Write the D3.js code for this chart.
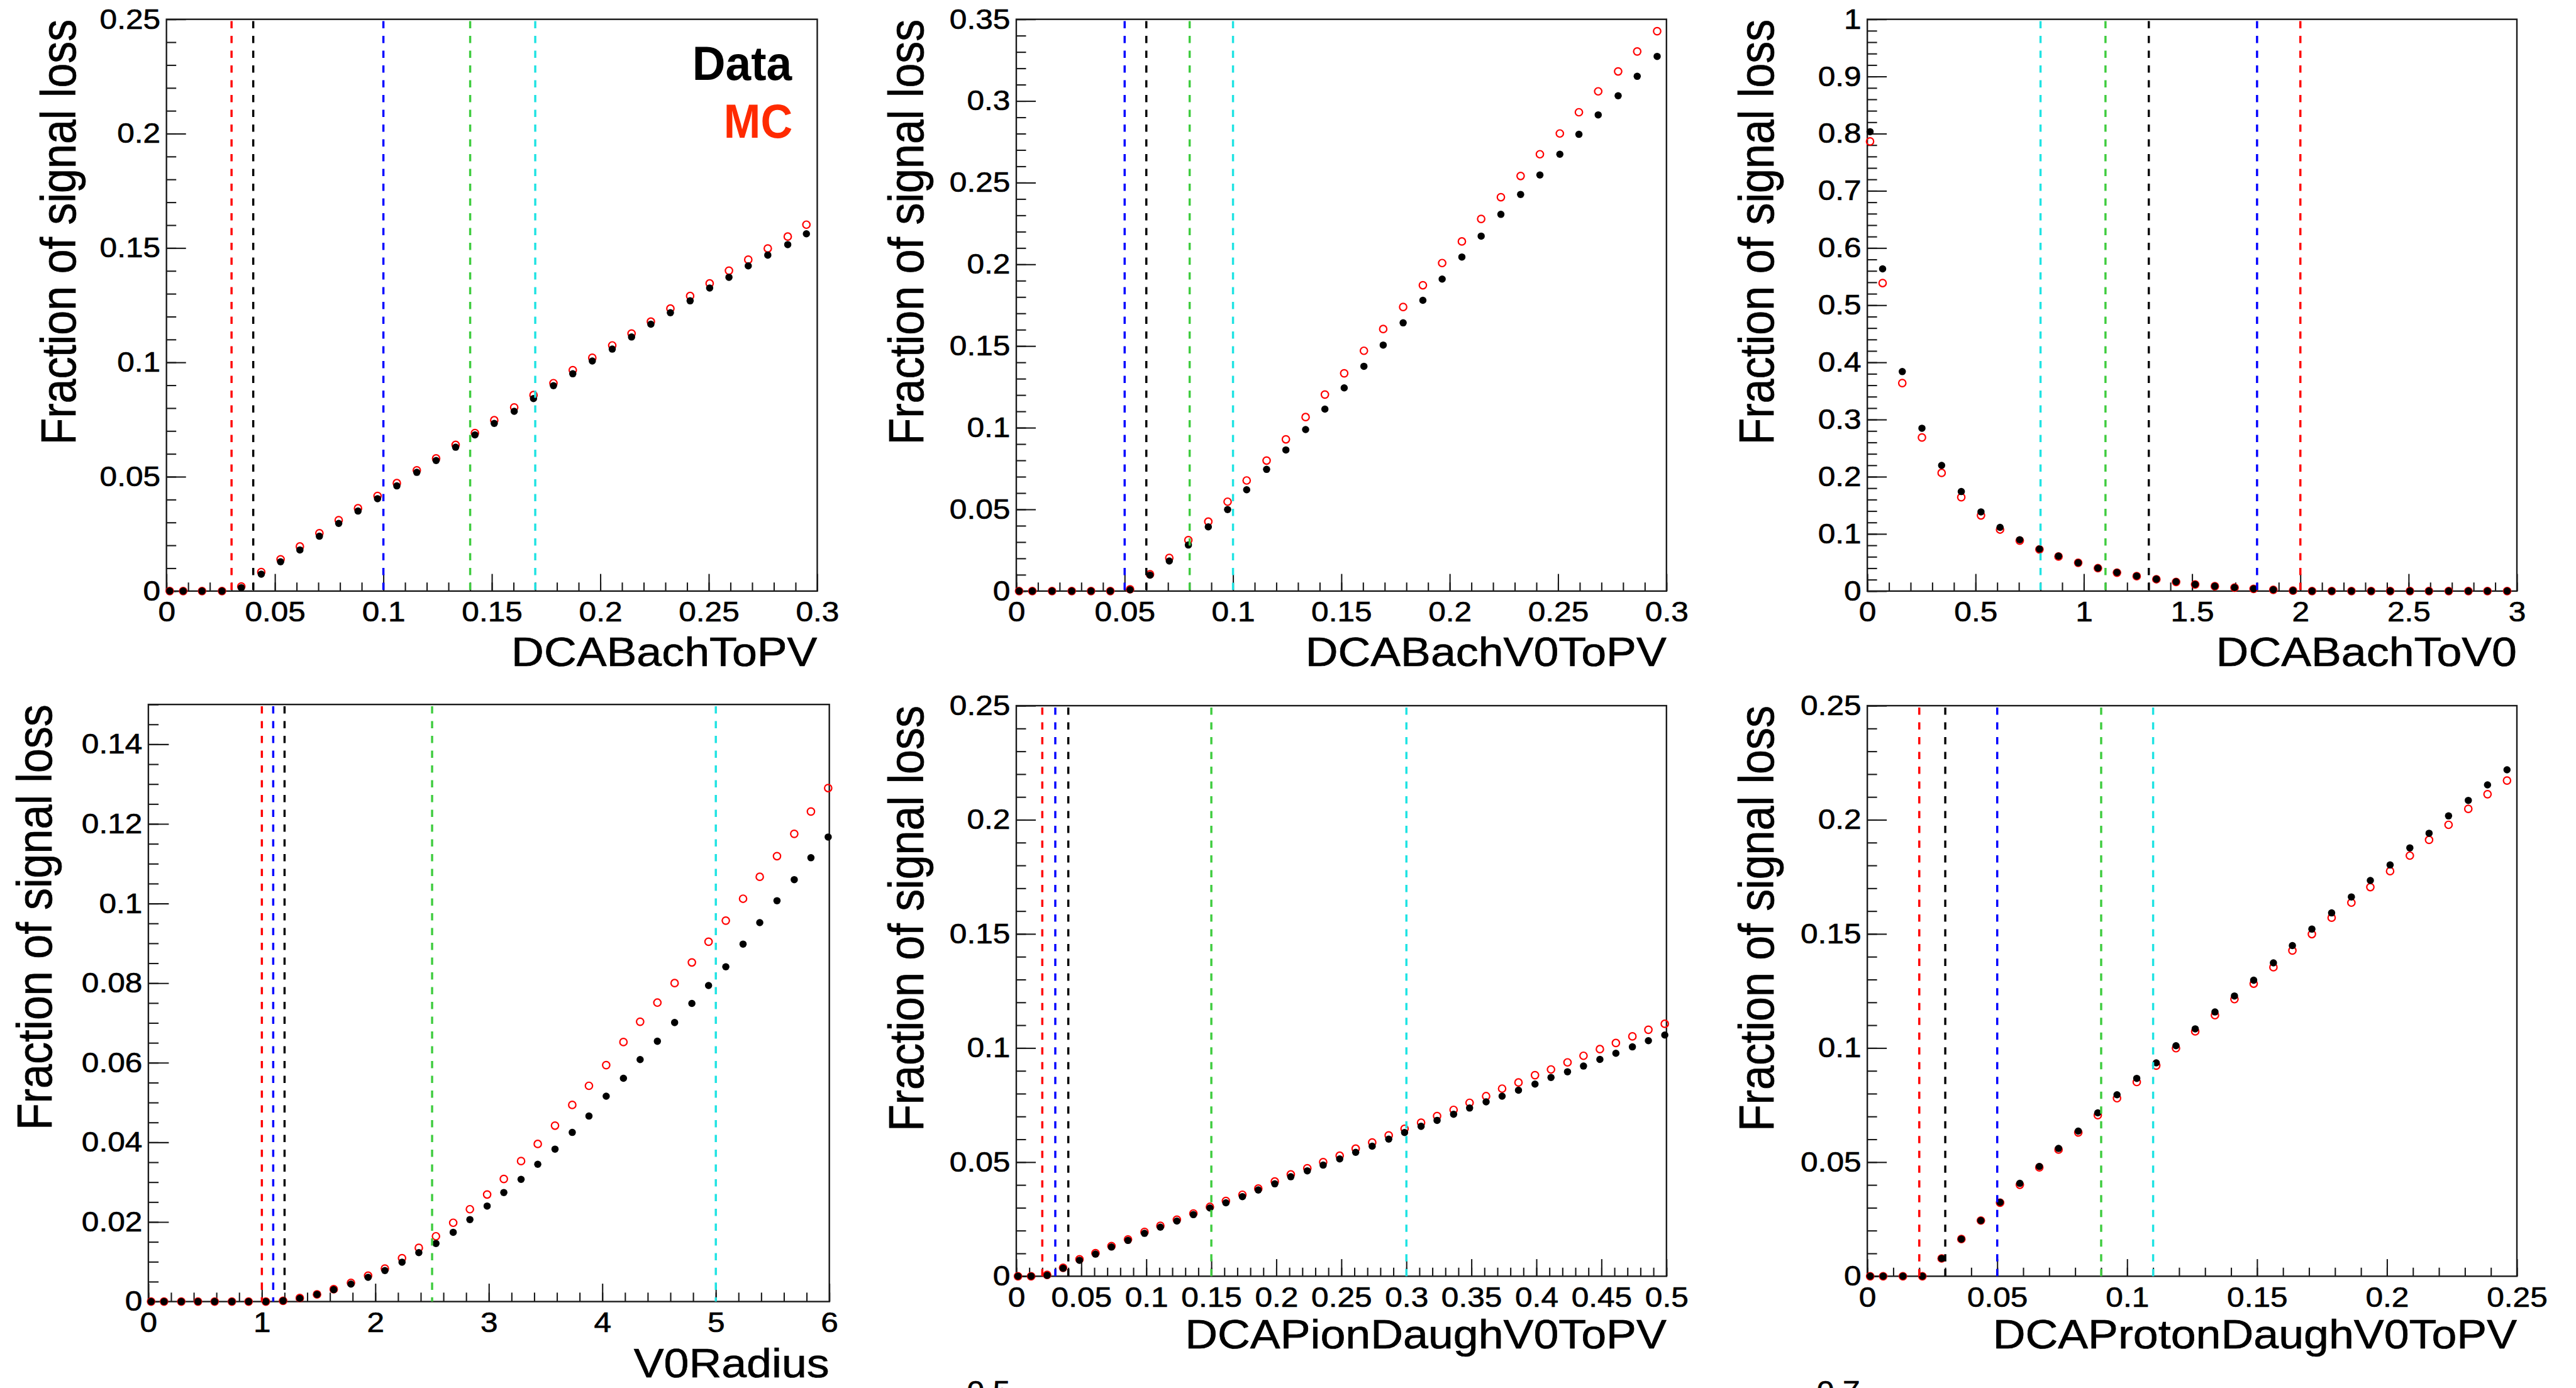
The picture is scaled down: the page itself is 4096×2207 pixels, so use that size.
<!DOCTYPE html>
<html><head><meta charset="utf-8">
<script src="https://cdn.jsdelivr.net/npm/d3@7"></script>
<style>html,body{margin:0;padding:0;background:#fff;overflow:hidden}</style>
</head><body>
<svg id="c" width="4096" height="2207"></svg>
<script>
// ---------------- DATA ----------------
const xTitles = ["DCABachToPV","DCABachV0ToPV","DCABachToV0","V0Radius","DCAPionDaughV0ToPV","DCAProtonDaughV0ToPV"];
const yTitle = "Fraction of signal loss";
const legendLabels = ["Data","MC"];

// Panel 1: DCABachToPV
const p1X = [0.0015,0.0077,0.0164,0.0256,0.0345,0.0437,0.0526,0.0615,0.0705,0.0794,0.0883,0.0973,0.1062,0.1154,0.1243,0.1333,0.1422,0.1511,0.1603,0.1692,0.1784,0.1873,0.1963,0.2055,0.2144,0.2233,0.2323,0.2414,0.2504,0.2593,0.2682,0.2772,0.2864,0.2950];
const p1Data = [0,0,0,0,0.0015,0.0074,0.0128,0.018,0.024,0.0296,0.035,0.0404,0.046,0.0519,0.0571,0.0629,0.0683,0.0733,0.0786,0.0842,0.0898,0.095,0.1006,0.1058,0.1111,0.1167,0.1217,0.1269,0.1325,0.1372,0.1422,0.1469,0.1515,0.1562];
const p1MC = [0,0,0,0,0.002,0.0083,0.0139,0.0195,0.0253,0.031,0.0362,0.0416,0.0472,0.0528,0.058,0.0639,0.0691,0.0747,0.0803,0.0857,0.0909,0.0966,0.102,0.1074,0.1126,0.1178,0.1235,0.129,0.1345,0.1401,0.1449,0.1498,0.155,0.1602];
const p1Cuts = [0.03,0.04,0.1,0.14,0.17];
const p1CutKinds = ["red","black","blue","green","cyan"];
const p1XLabels = ["0","0.05","0.1","0.15","0.2","0.25","0.3"];
const p1YLabels = ["0","0.05","0.1","0.15","0.2","0.25"];

// Panel 2: DCABachV0ToPV
const p2X = [0.0013,0.0074,0.0165,0.0256,0.0345,0.0434,0.0525,0.0617,0.0706,0.0794,0.0886,0.0975,0.1063,0.1155,0.1244,0.1335,0.1424,0.1513,0.1604,0.1693,0.1785,0.1876,0.1965,0.2056,0.2145,0.2236,0.2327,0.2416,0.2508,0.2596,0.2685,0.2777,0.2865,0.2957];
const p2Data = [0,0,0,0,0,0,0.0008,0.0098,0.0184,0.0282,0.0393,0.0499,0.062,0.0745,0.0864,0.0989,0.1114,0.1244,0.1376,0.1506,0.1642,0.178,0.191,0.2045,0.2173,0.2306,0.2428,0.2547,0.2674,0.2796,0.2915,0.3032,0.3151,0.3273];
const p2MC = [0,0,0,0,0,0,0.0011,0.0103,0.0203,0.0312,0.0425,0.0547,0.0677,0.0799,0.0929,0.1065,0.1203,0.1333,0.1471,0.1604,0.1739,0.1872,0.2008,0.214,0.2278,0.2411,0.2541,0.2674,0.2801,0.2931,0.3059,0.3181,0.3303,0.3427];
const p2Cuts = [0.05,0.06,0.08,0.1];
const p2CutKinds = ["blue","black","green","cyan"];
const p2XLabels = ["0","0.05","0.1","0.15","0.2","0.25","0.3"];
const p2YLabels = ["0","0.05","0.1","0.15","0.2","0.25","0.3","0.35"];

// Panel 3: DCABachToV0
const p3X = [0.0126,0.0707,0.1615,0.2523,0.3432,0.434,0.525,0.613,0.704,0.795,0.883,0.974,1.065,1.153,1.244,1.335,1.426,1.514,1.605,1.696,1.784,1.875,1.966,2.054,2.145,2.236,2.327,2.415,2.506,2.594,2.685,2.776,2.864,2.955];
const p3Data = [0.8034,0.5635,0.3839,0.2848,0.2198,0.1741,0.1385,0.1115,0.0898,0.0735,0.0611,0.0495,0.0402,0.0325,0.0263,0.0209,0.0163,0.0116,0.0085,0.0062,0.0039,0.0023,0.0008,0,0,0,0,0,0,0,0,0,0,0];
const p3MC = [0.7864,0.5387,0.3638,0.2686,0.2067,0.1641,0.1323,0.1076,0.0882,0.0728,0.0604,0.0495,0.04,0.0322,0.026,0.0207,0.016,0.0115,0.0084,0.006,0.0038,0.0022,0.0007,0,0,0,0,0,0,0,0,0,0,0];
const p3Cuts = [0.8,1.1,1.3,1.8,2.0];
const p3CutKinds = ["cyan","green","black","blue","red"];
const p3XLabels = ["0","0.5","1","1.5","2","2.5","3"];
const p3YLabels = ["0","0.1","0.2","0.3","0.4","0.5","0.6","0.7","0.8","0.9","1"];

// Panel 4: V0Radius
const p4X = [0.024,0.138,0.29,0.437,0.584,0.736,0.883,1.035,1.187,1.334,1.486,1.633,1.785,1.936,2.084,2.235,2.383,2.534,2.686,2.833,2.985,3.132,3.284,3.431,3.583,3.735,3.882,4.034,4.186,4.333,4.485,4.637,4.789,4.936,5.088,5.24,5.387,5.539,5.691,5.838,5.99];
const p4Data = [0,0,0,0,0,0,0,0,0.0002,0.0008,0.0018,0.003,0.0044,0.0061,0.0078,0.0099,0.0123,0.0146,0.0174,0.0206,0.024,0.0274,0.0307,0.0345,0.0383,0.0425,0.0466,0.0516,0.0561,0.0608,0.0654,0.0701,0.0749,0.0794,0.0841,0.0898,0.0952,0.1007,0.106,0.1115,0.1167];
const p4MC = [0,0,0,0,0,0,0,0,0.0002,0.0009,0.0018,0.0031,0.0047,0.0065,0.0083,0.0109,0.0135,0.0164,0.0198,0.0232,0.0269,0.0308,0.0353,0.0396,0.0442,0.0494,0.0542,0.0594,0.0652,0.0703,0.0751,0.08,0.0852,0.0904,0.0957,0.1012,0.1067,0.1119,0.1175,0.1231,0.129];
const p4Cuts = [1.0,1.1,1.2,2.5,5.0];
const p4CutKinds = ["red","blue","black","green","cyan"];
const p4XLabels = ["0","1","2","3","4","5","6"];
const p4YLabels = ["0","0.02","0.04","0.06","0.08","0.1","0.12","0.14"];

// Panel 5: DCAPionDaughV0ToPV
const p5X = [0.0013,0.0114,0.0237,0.036,0.0486,0.0609,0.0732,0.0859,0.0986,0.1108,0.1235,0.1362,0.1489,0.1612,0.1739,0.1861,0.1988,0.2111,0.2238,0.236,0.2487,0.261,0.2737,0.2864,0.2986,0.3113,0.3236,0.3363,0.3486,0.3613,0.3736,0.3862,0.3989,0.4112,0.4239,0.4362,0.4488,0.4611,0.4738,0.4861,0.4987];
const p5Data = [0,0,0.0004,0.0035,0.007,0.0097,0.0128,0.0157,0.0188,0.0215,0.0242,0.027,0.0299,0.0322,0.0349,0.0378,0.0405,0.0436,0.0462,0.0487,0.0514,0.0543,0.057,0.0601,0.063,0.0657,0.0683,0.071,0.0737,0.0764,0.0789,0.0815,0.0842,0.0871,0.0896,0.0921,0.095,0.0977,0.1005,0.1032,0.1057];
const p5MC = [0,0,0.0006,0.0037,0.0074,0.0101,0.0132,0.0161,0.0194,0.0221,0.0248,0.0275,0.0304,0.033,0.0357,0.0384,0.0415,0.0446,0.0473,0.05,0.0528,0.0559,0.0586,0.0617,0.0646,0.0673,0.0702,0.0729,0.076,0.0789,0.0822,0.0849,0.0881,0.0906,0.0937,0.0966,0.0995,0.1022,0.1051,0.108,0.1106];
const p5Cuts = [0.02,0.03,0.04,0.15,0.3];
const p5CutKinds = ["red","blue","black","green","cyan"];
const p5XLabels = ["0","0.05","0.1","0.15","0.2","0.25","0.3","0.35","0.4","0.45","0.5"];
const p5YLabels = ["0","0.05","0.1","0.15","0.2","0.25"];

// Panel 6: DCAProtonDaughV0ToPV
const p6X = [0.0011,0.0061,0.0137,0.0212,0.0286,0.0362,0.0437,0.0511,0.0587,0.0662,0.0736,0.0812,0.0887,0.0961,0.1037,0.1112,0.1188,0.1262,0.1338,0.1413,0.1487,0.1563,0.1636,0.1711,0.1787,0.1863,0.1936,0.2012,0.2088,0.2162,0.2237,0.2313,0.2387,0.2462];
const p6Data = [0,0,0,0,0.0078,0.0163,0.0244,0.0324,0.0407,0.0481,0.056,0.0636,0.0716,0.0795,0.0867,0.0935,0.101,0.1084,0.1158,0.1228,0.1297,0.1373,0.1449,0.1521,0.1592,0.1662,0.1734,0.1802,0.1877,0.1941,0.2017,0.2085,0.2153,0.2219];
const p6MC = [0,0,0,0,0.0078,0.0163,0.0244,0.0322,0.0401,0.0477,0.0555,0.063,0.0706,0.078,0.0851,0.0923,0.0999,0.1073,0.1144,0.1214,0.1282,0.1354,0.1427,0.1499,0.1571,0.1637,0.1705,0.1775,0.1843,0.1912,0.1978,0.2048,0.2112,0.2172];
const p6Cuts = [0.02,0.03,0.05,0.09,0.11];
const p6CutKinds = ["red","black","blue","green","cyan"];
const p6XLabels = ["0","0.05","0.1","0.15","0.2","0.25"];
const p6YLabels = ["0","0.05","0.1","0.15","0.2","0.25"];

// Partly visible labels of a next row (cut off at the bottom edge, as in the reference)
const cutOffLabels = ["0.5","0.7"];

// ---------------- STYLE / LAYOUT (reference pixels) ----------------
const S = 4096/4271;
const FONT = '"Liberation Sans", Arial, Helvetica, sans-serif';
const SX = 1.1;           // horizontal stretch of the reference's glyphs
const INK = "#1a1a1a";
const TXT_STROKE = 0.7;
const cutColor = {red:"#ff0000", black:"#000000", blue:"#0000ff", green:"#3fcc3f", cyan:"#1fe3e3"};

const layout = [
  {L:276, R:1355, T:32,  B:980,  yOff:151, xOff:124, xDom:[0,0.3],  yDom:[0,0.25], xMinor:0.01, yMinor:0.01},
  {L:1685,R:2763, T:32,  B:980,  yOff:154, xOff:124, xDom:[0,0.3],  yDom:[0,0.35], xMinor:0.01, yMinor:0.01},
  {L:3096,R:4173, T:32,  B:980,  yOff:155, xOff:124, xDom:[0,3],    yDom:[0,1],    xMinor:0.1,  yMinor:0.02},
  {L:246, R:1375, T:1168,B:2158, yOff:161, xOff:126, xDom:[0,6],    yDom:[0,0.15], xMinor:0.2,  yMinor:0.005},
  {L:1685,R:2763, T:1170,B:2116, yOff:154, xOff:120, xDom:[0,0.5],  yDom:[0,0.25], xMinor:0.01, yMinor:0.01},
  {L:3096,R:4173, T:1170,B:2116, yOff:155, xOff:120, xDom:[0,0.25], yDom:[0,0.25], xMinor:0.01, yMinor:0.01}
];
const series = [
  {x:p1X,d:p1Data,m:p1MC,cuts:p1Cuts,kinds:p1CutKinds,xl:p1XLabels,yl:p1YLabels},
  {x:p2X,d:p2Data,m:p2MC,cuts:p2Cuts,kinds:p2CutKinds,xl:p2XLabels,yl:p2YLabels},
  {x:p3X,d:p3Data,m:p3MC,cuts:p3Cuts,kinds:p3CutKinds,xl:p3XLabels,yl:p3YLabels},
  {x:p4X,d:p4Data,m:p4MC,cuts:p4Cuts,kinds:p4CutKinds,xl:p4XLabels,yl:p4YLabels},
  {x:p5X,d:p5Data,m:p5MC,cuts:p5Cuts,kinds:p5CutKinds,xl:p5XLabels,yl:p5YLabels},
  {x:p6X,d:p6Data,m:p6MC,cuts:p6Cuts,kinds:p6CutKinds,xl:p6XLabels,yl:p6YLabels}
];

const svg = d3.select("#c");
svg.append("rect").attr("width",4096).attr("height",2207).attr("fill","#fff");
const root = svg.append("g").attr("transform",`scale(${S})`);

function stretchAxisText(sel){
  sel.selectAll("text").each(function(){
    const t = d3.select(this);
    const xx = +t.attr("x") || 0, yy = +t.attr("y") || 0;
    t.attr("x",null).attr("y",null).attr("transform",`translate(${xx},${yy}) scale(${SX},1)`)
     .attr("stroke","#000").attr("stroke-width",TXT_STROKE).attr("fill","#000");
  });
}
function styleAxis(g, fs){
  g.attr("font-family",FONT).attr("font-size",fs).attr("color",INK);
  g.select(".domain").remove();
  g.selectAll("line").attr("stroke-width",2.2);
}
function steps(dom, st){
  const n = Math.round((dom[1]-dom[0])/st);
  return d3.range(0,n+1).map(i => dom[0] + i*st);
}

layout.forEach((p, k) => {
  const s = series[k];
  const g = root.append("g");
  const x = d3.scaleLinear().domain(p.xDom).range([p.L, p.R]);
  const y = d3.scaleLinear().domain(p.yDom).range([p.B, p.T]);
  const W = p.R - p.L, H = p.B - p.T;

  // minor ticks
  g.append("g").attr("transform",`translate(0,${p.B})`)
    .call(d3.axisBottom(x).tickValues(steps(p.xDom,p.xMinor)).tickSize(-0.015*H).tickFormat(""))
    .call(a => styleAxis(a, 47));
  g.append("g").attr("transform",`translate(${p.L},0)`)
    .call(d3.axisLeft(y).tickValues(steps(p.yDom,p.yMinor)).tickSize(-0.015*W).tickFormat(""))
    .call(a => styleAxis(a, 47));
  // major ticks + labels
  const gx = g.append("g").attr("transform",`translate(0,${p.B})`)
    .call(d3.axisBottom(x).tickValues(s.xl.map(Number)).tickSize(-0.03*H).tickPadding(17).tickFormat((d,i)=>s.xl[i]))
    .call(a => styleAxis(a, 47));
  stretchAxisText(gx);
  const gy = g.append("g").attr("transform",`translate(${p.L},0)`)
    .call(d3.axisLeft(y).tickValues(s.yl.map(Number)).tickSize(-0.03*W).tickPadding(10).tickFormat((d,i)=>s.yl[i]))
    .call(a => styleAxis(a, 47));
  stretchAxisText(gy);

  // frame
  g.append("rect").attr("x",p.L).attr("y",p.T).attr("width",W).attr("height",H)
    .attr("fill","none").attr("stroke",INK).attr("stroke-width",2.5);

  // markers: MC (open red) below Data (filled black)
  const pts = s.x.map((v,i)=>({x:v, d:s.d[i], m:s.m[i]}));
  g.append("g").selectAll("circle").data(pts).join("circle")
    .attr("cx",d=>x(d.x)).attr("cy",d=>y(d.m)).attr("r",6)
    .attr("fill","none").attr("stroke","#ff0000").attr("stroke-width",2.3);
  g.append("g").selectAll("circle").data(pts).join("circle")
    .attr("cx",d=>x(d.x)).attr("cy",d=>y(d.d)).attr("r",6)
    .attr("fill","#000");

  // cut lines
  g.append("g").selectAll("line").data(s.cuts.map((c,i)=>({c, kind:s.kinds[i]}))).join("line")
    .attr("x1",d=>x(d.c)).attr("x2",d=>x(d.c)).attr("y1",p.T+3).attr("y2",p.B)
    .attr("stroke",d=>cutColor[d.kind]).attr("stroke-width",3.6).attr("stroke-dasharray","12 12.5");

  // axis titles
  g.append("text").attr("transform",`translate(${p.R},${p.B + p.xOff}) scale(${SX},1)`)
    .attr("text-anchor","end").attr("font-family",FONT).attr("font-size",68).attr("fill","#000")
    .attr("stroke","#000").attr("stroke-width",TXT_STROKE)
    .text(xTitles[k]);
  g.append("text").attr("transform",`translate(${p.L - p.yOff},${p.T}) rotate(-90) scale(1,${SX})`)
    .attr("text-anchor","end").attr("font-family",FONT).attr("font-size",73).attr("fill","#000")
    .attr("stroke","#000").attr("stroke-width",TXT_STROKE)
    .text(yTitle);
});

// legend in panel 1
function fitText(t, targetW){
  const bw = t.node().getBBox().width;
  const ax = +t.attr("data-x"), ay = +t.attr("data-y");
  t.attr("transform",`translate(${ax},${ay}) scale(${targetW/bw},1)`);
}
const lg = root.append("g").attr("font-family",FONT).attr("font-weight",700).attr("font-size",79);
const tData = lg.append("text").attr("data-x",1313).attr("data-y",132).attr("text-anchor","end").attr("fill","#000").text(legendLabels[0]);
const tMC = lg.append("text").attr("data-x",1314).attr("data-y",228).attr("text-anchor","end").attr("fill","#ff2a00").text(legendLabels[1]);
fitText(tData, 166);
fitText(tMC, 114);

// cut-off labels at the bottom edge (only their tops are visible in the reference)
const cutPos = [[1675,2322],[3084,2322]];
root.append("g").selectAll("text").data(cutOffLabels).join("text")
  .attr("transform",(d,i)=>`translate(${cutPos[i][0]},${cutPos[i][1]}) scale(${SX},1)`)
  .attr("text-anchor","end").attr("font-family",FONT).attr("font-size",47).attr("fill","#000")
  .attr("stroke","#000").attr("stroke-width",TXT_STROKE)
  .text(d=>d);
</script>
</body></html>
